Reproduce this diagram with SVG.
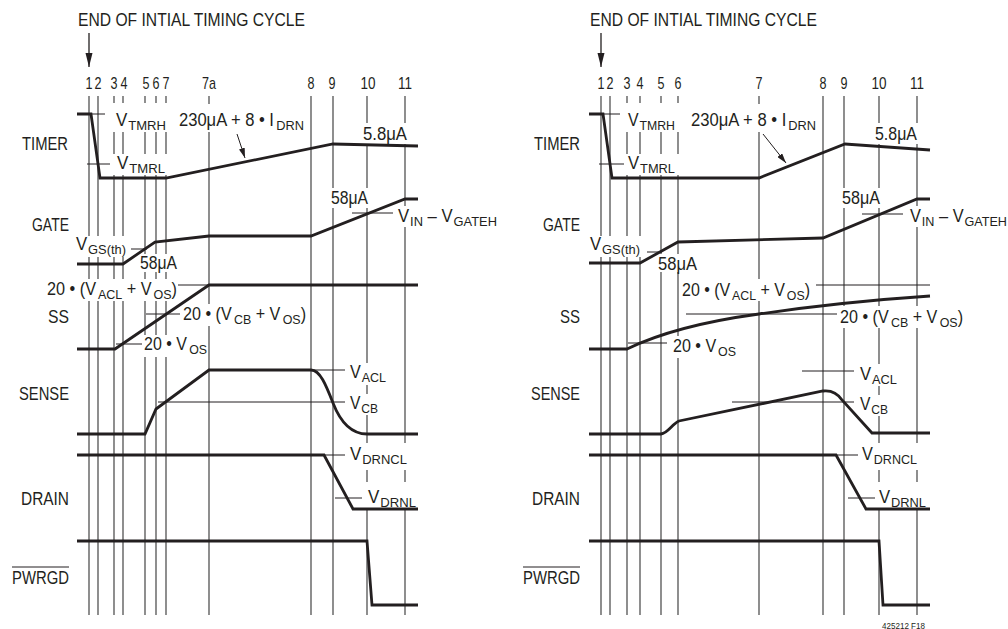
<svg xmlns="http://www.w3.org/2000/svg" width="1008" height="629" viewBox="0 0 1008 629">
<style>
.t{font-family:"Liberation Sans",Arial,sans-serif;font-size:17.5px;fill:#231f20}
.s{font-size:13.5px}
.n{font-family:"Liberation Sans",Arial,sans-serif;font-size:17px;fill:#231f20;text-anchor:middle}
.fn{font-family:"Liberation Sans",Arial,sans-serif;font-size:9px;fill:#231f20}
.v{stroke:#333;stroke-width:1.1;fill:none}
.m{fill:#fff;stroke:none}
.w{stroke:#231f20;stroke-width:2.8;fill:none;stroke-linejoin:miter}
.l{stroke:#231f20;stroke-width:1;fill:none}
.a{stroke:#231f20;stroke-width:1.3;fill:none}
.ov{stroke:#231f20;stroke-width:1}
</style>
<defs>
<marker id="ahBig" markerUnits="userSpaceOnUse" markerWidth="14" markerHeight="8" refX="14" refY="4" orient="auto"><path d="M0,0.5 L14,4 L0,7.5 z" fill="#231f20"/></marker>
<marker id="ahSmall" markerUnits="userSpaceOnUse" markerWidth="10" markerHeight="6" refX="10" refY="3" orient="auto"><path d="M0,0 L10,3 L0,6 z" fill="#231f20"/></marker>
</defs>
<rect width="1008" height="629" fill="#fff"/>

<!-- ===== LEFT PANEL ===== -->
<g id="left-gridlines">
<path class="v" d="M89,96V615M98,96V615M114,96V615M123,96V615M145,96V615M156,96V615M166,96V615M209,96V615M311,96V615M333,96V615M367,96V615M405,96V615"/>
</g>
<g id="left-masks">
<rect class="m" x="111" y="103" width="59" height="29"/>
<rect class="m" x="176" y="104" width="130" height="28"/>
<rect class="m" x="360" y="123" width="50" height="21"/>
<rect class="m" x="111" y="154" width="59" height="21"/>
<rect class="m" x="328" y="188" width="43" height="20"/>
<rect class="m" x="395" y="206" width="105" height="21"/>
<rect class="m" x="73" y="236" width="56" height="21"/>
<rect class="m" x="137" y="254" width="43" height="18"/>
<rect class="m" x="44" y="279" width="136" height="22"/>
<rect class="m" x="180" y="304" width="128" height="22"/>
<rect class="m" x="141" y="335" width="66" height="22"/>
<rect class="m" x="347" y="363" width="42" height="22"/>
<rect class="m" x="347" y="394" width="34" height="21"/>
<rect class="m" x="347" y="443" width="63" height="27"/>
<rect class="m" x="364" y="482" width="55" height="26"/>
</g>
<g id="left-connectors">
<line class="a" x1="89" y1="33" x2="89" y2="67" marker-end="url(#ahBig)"/>
<line class="l" x1="237" y1="134" x2="245" y2="158" marker-end="url(#ahSmall)"/>
<path class="l" d="M77,114H105M87,164H110M131,249H147M178,285H209M146,314H180M116,344H142M352,213H393M311,370H345M158,402H345M324,455H345M335,498H362"/>
</g>
<g id="left-waveforms">
<path id="l-timer" class="w" d="M77,114H91L100,178H166L333,144L418,146"/>
<path id="l-gate" class="w" d="M77,264H123L155,242L209,236H311L405,199H418"/>
<path id="l-ss" class="w" d="M77,349H115L209,285H418"/>
<path id="l-sense" class="w" d="M77,434H145L156,409L209,370H311C320,370 326,385 333,403C340,421 350,434 367,434H418"/>
<path id="l-drain" class="w" d="M77,455H324L353,509H418"/>
<path id="l-pwrgd" class="w" d="M77,541H367L372,605H418"/>
</g>
<g id="left-labels">
<text class="t" x="78" y="26" textLength="227" lengthAdjust="spacingAndGlyphs">END OF INTIAL TIMING CYCLE</text>
<g id="left-numbers">
<text class="n" x="89" y="89" textLength="7" lengthAdjust="spacingAndGlyphs">1</text><text class="n" x="98" y="89" textLength="7" lengthAdjust="spacingAndGlyphs">2</text>
<text class="n" x="114" y="89" textLength="7" lengthAdjust="spacingAndGlyphs">3</text><text class="n" x="124" y="89" textLength="7" lengthAdjust="spacingAndGlyphs">4</text>
<text class="n" x="146" y="89" textLength="7" lengthAdjust="spacingAndGlyphs">5</text><text class="n" x="156" y="89" textLength="7" lengthAdjust="spacingAndGlyphs">6</text><text class="n" x="166" y="89" textLength="7" lengthAdjust="spacingAndGlyphs">7</text>
<text class="n" x="209" y="89" textLength="14" lengthAdjust="spacingAndGlyphs">7a</text><text class="n" x="311" y="89" textLength="7" lengthAdjust="spacingAndGlyphs">8</text><text class="n" x="332" y="89" textLength="7" lengthAdjust="spacingAndGlyphs">9</text>
<text class="n" x="368" y="89" textLength="15" lengthAdjust="spacingAndGlyphs">10</text><text class="n" x="405" y="89" textLength="14" lengthAdjust="spacingAndGlyphs">11</text>
</g>
<text id="l-lbl-timer" class="t" x="22" y="150" textLength="46" lengthAdjust="spacingAndGlyphs">TIMER</text>
<text id="l-lbl-gate" class="t" x="32" y="231" textLength="37" lengthAdjust="spacingAndGlyphs">GATE</text>
<text id="l-lbl-ss" class="t" x="48" y="323" textLength="21" lengthAdjust="spacingAndGlyphs">SS</text>
<text id="l-lbl-sense" class="t" x="19" y="400" textLength="50" lengthAdjust="spacingAndGlyphs">SENSE</text>
<text id="l-lbl-drain" class="t" x="21" y="505" textLength="48" lengthAdjust="spacingAndGlyphs">DRAIN</text>
<g id="l-lbl-pwrgd"><text class="t" x="12" y="584" textLength="57" lengthAdjust="spacingAndGlyphs">PWRGD</text><line class="ov" x1="12" y1="567" x2="69" y2="567"/></g>
<text class="t" x="116" y="126" textLength="50" lengthAdjust="spacingAndGlyphs">V<tspan class="s" dx="1" dy="3.5">TMRH</tspan></text>
<text class="t" x="179" y="126" textLength="125" lengthAdjust="spacingAndGlyphs">230μA + 8 • I<tspan class="s" dx="2.5" dy="3.5">DRN</tspan></text>
<text class="t" x="363" y="140" textLength="44" lengthAdjust="spacingAndGlyphs">5.8μA</text>
<text class="t" x="117" y="169" textLength="48" lengthAdjust="spacingAndGlyphs">V<tspan class="s" dx="1" dy="3.5">TMRL</tspan></text>
<text class="t" x="331" y="204" textLength="37" lengthAdjust="spacingAndGlyphs">58μA</text>
<text class="t" x="398" y="222" textLength="99" lengthAdjust="spacingAndGlyphs">V<tspan class="s" dx="1" dy="3.5">IN</tspan><tspan dy="-3.5"> – V</tspan><tspan class="s" dx="1" dy="3.5">GATEH</tspan></text>
<text class="t" x="76" y="250" textLength="50" lengthAdjust="spacingAndGlyphs">V<tspan class="s" dx="1" dy="3.5">GS(th)</tspan></text>
<text class="t" x="140" y="269" textLength="37" lengthAdjust="spacingAndGlyphs">58μA</text>
<text class="t" x="47" y="295" textLength="130" lengthAdjust="spacingAndGlyphs">20 • (V<tspan class="s" dx="2" dy="3.5">ACL</tspan><tspan dy="-3.5"> + V</tspan><tspan class="s" dx="2" dy="3.5">OS</tspan><tspan dy="-3.5">)</tspan></text>
<text class="t" x="183" y="320" textLength="123" lengthAdjust="spacingAndGlyphs">20 • (V<tspan class="s" dx="2.5" dy="3.5">CB</tspan><tspan dy="-3.5"> + V</tspan><tspan class="s" dx="2.5" dy="3.5">OS</tspan><tspan dy="-3.5">)</tspan></text>
<text class="t" x="144" y="350" textLength="63" lengthAdjust="spacingAndGlyphs">20 • V<tspan class="s" dx="2.5" dy="3.5">OS</tspan></text>
<text class="t" x="350" y="378" textLength="36" lengthAdjust="spacingAndGlyphs">V<tspan class="s" dx="1" dy="3.5">ACL</tspan></text>
<text class="t" x="350" y="409" textLength="28" lengthAdjust="spacingAndGlyphs">V<tspan class="s" dx="1" dy="3.5">CB</tspan></text>
<text class="t" x="350" y="460" textLength="57" lengthAdjust="spacingAndGlyphs">V<tspan class="s" dx="1" dy="3.5">DRNCL</tspan></text>
<text class="t" x="368" y="503" textLength="48" lengthAdjust="spacingAndGlyphs">V<tspan class="s" dx="1" dy="3.5">DRNL</tspan></text>
</g>

<!-- ===== RIGHT PANEL ===== -->
<g id="right-gridlines">
<path class="v" d="M601,96V615M610,96V615M627,96V615M640,96V615M661,96V615M678,96V615M759,96V615M823,96V615M844,96V615M879,96V615M917,96V615"/>
</g>
<g id="right-masks">
<rect class="m" x="624" y="103" width="57" height="29"/>
<rect class="m" x="688" y="104" width="131" height="28"/>
<rect class="m" x="872" y="123" width="48" height="21"/>
<rect class="m" x="624" y="154" width="57" height="21"/>
<rect class="m" x="839" y="188" width="44" height="20"/>
<rect class="m" x="907" y="206" width="101" height="21"/>
<rect class="m" x="587" y="236" width="56" height="21"/>
<rect class="m" x="655" y="254" width="45" height="18"/>
<rect class="m" x="679" y="279" width="134" height="22"/>
<rect class="m" x="837" y="306" width="128" height="22"/>
<rect class="m" x="670" y="336" width="69" height="22"/>
<rect class="m" x="857" y="364" width="43" height="22"/>
<rect class="m" x="857" y="395" width="34" height="21"/>
<rect class="m" x="859" y="443" width="61" height="27"/>
<rect class="m" x="876" y="482" width="53" height="26"/>
</g>
<g id="right-connectors">
<line class="a" x1="601" y1="33" x2="601" y2="67" marker-end="url(#ahBig)"/>
<line class="l" x1="763" y1="134" x2="786" y2="163" marker-end="url(#ahSmall)"/>
<path class="l" d="M597,114H620M599,164H624M647,252H662M816,285H930M686,314H837M628,343H667M862,214H903M802,371H854M732,402H854M836,455H858M848,498H875"/>
</g>
<g id="right-waveforms">
<path id="r-timer" class="w" d="M589,114H603L612,178H759L845,144L930,150"/>
<path id="r-gate" class="w" d="M589,263H640L678,242L823,238L917,199H930"/>
<path id="r-ss" class="w" d="M589,349H627C660,333 700,322 759,314C800,308 870,300 930,296"/>
<path id="r-sense" class="w" d="M589,434H661C668,433 672,424 679,421L823,391C832,390 838,394 842,400L872,433H930"/>
<path id="r-drain" class="w" d="M589,455H836L866,509H930"/>
<path id="r-pwrgd" class="w" d="M589,541H879L883,605H930"/>
</g>
<g id="right-labels">
<text class="t" x="590" y="26" textLength="227" lengthAdjust="spacingAndGlyphs">END OF INTIAL TIMING CYCLE</text>
<g id="right-numbers">
<text class="n" x="601" y="89" textLength="7" lengthAdjust="spacingAndGlyphs">1</text><text class="n" x="610" y="89" textLength="7" lengthAdjust="spacingAndGlyphs">2</text>
<text class="n" x="627" y="89" textLength="7" lengthAdjust="spacingAndGlyphs">3</text><text class="n" x="640" y="89" textLength="7" lengthAdjust="spacingAndGlyphs">4</text>
<text class="n" x="661" y="89" textLength="7" lengthAdjust="spacingAndGlyphs">5</text><text class="n" x="678" y="89" textLength="7" lengthAdjust="spacingAndGlyphs">6</text>
<text class="n" x="759" y="89" textLength="7" lengthAdjust="spacingAndGlyphs">7</text><text class="n" x="823" y="89" textLength="7" lengthAdjust="spacingAndGlyphs">8</text><text class="n" x="844" y="89" textLength="7" lengthAdjust="spacingAndGlyphs">9</text>
<text class="n" x="879" y="89" textLength="15" lengthAdjust="spacingAndGlyphs">10</text><text class="n" x="917" y="89" textLength="14" lengthAdjust="spacingAndGlyphs">11</text>
</g>
<text id="r-lbl-timer" class="t" x="534" y="150" textLength="46" lengthAdjust="spacingAndGlyphs">TIMER</text>
<text id="r-lbl-gate" class="t" x="543" y="231" textLength="37" lengthAdjust="spacingAndGlyphs">GATE</text>
<text id="r-lbl-ss" class="t" x="560" y="323" textLength="20" lengthAdjust="spacingAndGlyphs">SS</text>
<text id="r-lbl-sense" class="t" x="531" y="400" textLength="49" lengthAdjust="spacingAndGlyphs">SENSE</text>
<text id="r-lbl-drain" class="t" x="532" y="505" textLength="48" lengthAdjust="spacingAndGlyphs">DRAIN</text>
<g id="r-lbl-pwrgd"><text class="t" x="523" y="584" textLength="57" lengthAdjust="spacingAndGlyphs">PWRGD</text><line class="ov" x1="523" y1="567" x2="580" y2="567"/></g>
<text class="t" x="628" y="126" textLength="47" lengthAdjust="spacingAndGlyphs">V<tspan class="s" dx="1" dy="3.5">TMRH</tspan></text>
<text class="t" x="691" y="126" textLength="125" lengthAdjust="spacingAndGlyphs">230μA + 8 • I<tspan class="s" dx="2" dy="3.5">DRN</tspan></text>
<text class="t" x="875" y="140" textLength="42" lengthAdjust="spacingAndGlyphs">5.8μA</text>
<text class="t" x="628" y="169" textLength="47" lengthAdjust="spacingAndGlyphs">V<tspan class="s" dx="1" dy="3.5">TMRL</tspan></text>
<text class="t" x="842" y="204" textLength="38" lengthAdjust="spacingAndGlyphs">58μA</text>
<text class="t" x="910" y="222" textLength="97" lengthAdjust="spacingAndGlyphs">V<tspan class="s" dx="1" dy="3.5">IN</tspan><tspan dy="-3.5"> – V</tspan><tspan class="s" dx="1" dy="3.5">GATEH</tspan></text>
<text class="t" x="590" y="250" textLength="50" lengthAdjust="spacingAndGlyphs">V<tspan class="s" dx="1" dy="3.5">GS(th)</tspan></text>
<text class="t" x="658" y="270" textLength="39" lengthAdjust="spacingAndGlyphs">58μA</text>
<text class="t" x="682" y="296" textLength="128" lengthAdjust="spacingAndGlyphs">20 • (V<tspan class="s" dx="2" dy="3.5">ACL</tspan><tspan dy="-3.5"> + V</tspan><tspan class="s" dx="2" dy="3.5">OS</tspan><tspan dy="-3.5">)</tspan></text>
<text class="t" x="840" y="323" textLength="123" lengthAdjust="spacingAndGlyphs">20 • (V<tspan class="s" dx="2.5" dy="3.5">CB</tspan><tspan dy="-3.5"> + V</tspan><tspan class="s" dx="2.5" dy="3.5">OS</tspan><tspan dy="-3.5">)</tspan></text>
<text class="t" x="673" y="352" textLength="63" lengthAdjust="spacingAndGlyphs">20 • V<tspan class="s" dx="2" dy="3.5">OS</tspan></text>
<text class="t" x="860" y="380" textLength="37" lengthAdjust="spacingAndGlyphs">V<tspan class="s" dx="1" dy="3.5">ACL</tspan></text>
<text class="t" x="860" y="410" textLength="28" lengthAdjust="spacingAndGlyphs">V<tspan class="s" dx="1" dy="3.5">CB</tspan></text>
<text class="t" x="862" y="460" textLength="55" lengthAdjust="spacingAndGlyphs">V<tspan class="s" dx="1" dy="3.5">DRNCL</tspan></text>
<text class="t" x="879" y="503" textLength="47" lengthAdjust="spacingAndGlyphs">V<tspan class="s" dx="1" dy="3.5">DRNL</tspan></text>
<text class="fn" x="882" y="628.5" textLength="43" lengthAdjust="spacingAndGlyphs">425212 F18</text>
</g>
</svg>
